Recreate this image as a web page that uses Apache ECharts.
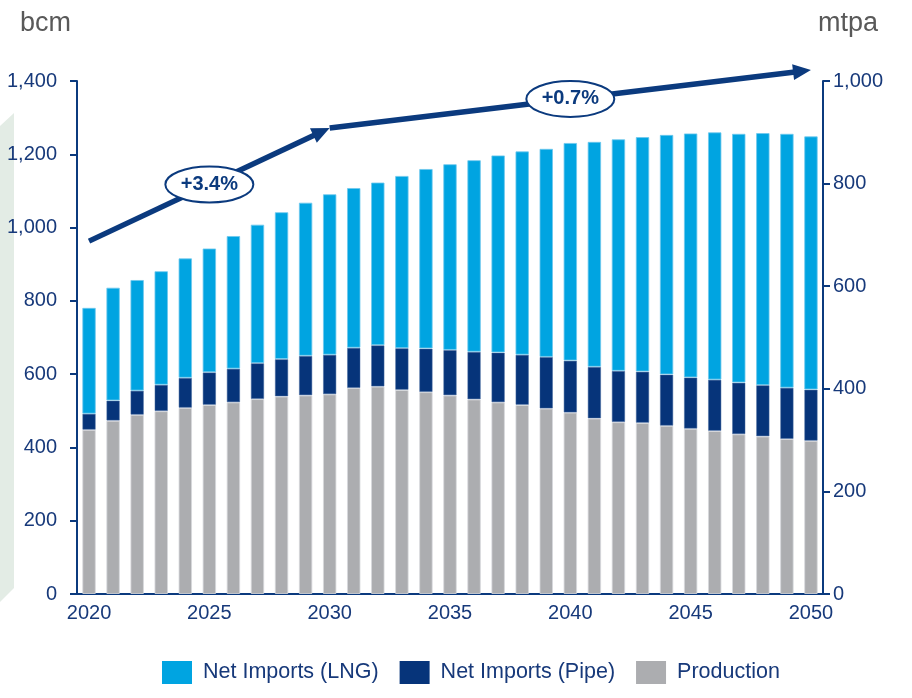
<!DOCTYPE html>
<html>
<head>
<meta charset="utf-8">
<script src="https://cdn.jsdelivr.net/npm/echarts@6/dist/echarts.min.js"></script>
<style>
  html, body { margin: 0; padding: 0; background: #ffffff; }
  #chart { width: 912px; height: 698px; }
</style>
</head>
<body>
<div id="chart"></div>
<script>
// Gas balance, 2020-2050 (bcm, stacked)
const years = ['2020','2021','2022','2023','2024','2025','2026','2027','2028','2029',
               '2030','2031','2032','2033','2034','2035','2036','2037','2038','2039',
               '2040','2041','2042','2043','2044','2045','2046','2047','2048','2049','2050'];

const production = [448,473,489,499,508,516,523,532,539,542,545,562,566,557,551,542,
                    531,523,516,506,495,479,469,467,459,451,445,436,430,423,418];
const netImportsPipe = [44,55,66,72,82,89,92,98,102,108,108,110,113,114,119,124,
                        130,136,137,141,142,141,140,140,140,140,140,141,140,140,140];
const netImportsLng = [289,308,302,310,326,338,362,378,401,418,438,436,444,470,490,507,
                       523,538,555,568,594,614,632,640,654,666,675,679,688,693,691];

// Growth arrows: anchor levels (bcm) and labels
const trendYears = ['2020', '2030', '2050'];
const trendLevels = [963, 1272, 1430];
const trendLabels = ['+3.4%', '+0.7%'];

const NAVY = '#0B3A7E';
const TEXT = '#17397A';

const chart = echarts.init(document.getElementById('chart'));

const barStyle = (color, border) => ({
  color: color,
  borderColor: border,
  borderWidth: 1
});

chart.setOption({
  animation: false,
  textStyle: { fontFamily: 'Liberation Sans, Arial, sans-serif' },
  grid: { left: 77, right: 89, top: 81, bottom: 104, containLabel: false },
  legend: {
    top: 656,
    left: 157,
    itemWidth: 30,
    itemHeight: 23,
    itemGap: 21,
    icon: 'rect',
    itemStyle: { borderWidth: 0 },
    data: ['Net Imports (LNG)', 'Net Imports (Pipe)', 'Production'],
    textStyle: { color: TEXT, fontSize: 21.5, padding: [0, 0, 0, 6] }
  },
  xAxis: {
    type: 'category',
    data: years,
    boundaryGap: true,
    axisLine: { lineStyle: { color: NAVY, width: 2 } },
    axisTick: { show: false },
    axisLabel: { interval: 4, color: TEXT, fontSize: 20, margin: 9 }
  },
  yAxis: [
    {
      type: 'value',
      name: 'bcm',
      nameLocation: 'end',
      nameGap: 0,
      nameTextStyle: { color: '#595959', fontSize: 27, align: 'left', padding: [0, 0, 44, -57] },
      min: 0, max: 1400, interval: 200,
      splitLine: { show: false },
      axisLine: { show: true, lineStyle: { color: NAVY, width: 2 } },
      axisTick: { show: true, length: 7, lineStyle: { color: NAVY, width: 2 } },
      axisLabel: {
        color: TEXT, fontSize: 20, margin: 20,
        formatter: v => v.toLocaleString('en-US')
      }
    },
    {
      type: 'value',
      name: 'mtpa',
      position: 'right',
      nameLocation: 'end',
      nameGap: 0,
      nameTextStyle: { color: '#595959', fontSize: 27, align: 'right', padding: [0, -55, 44, 0] },
      min: 0, max: 1000, interval: 200,
      splitLine: { show: false },
      axisLine: { show: true, lineStyle: { color: NAVY, width: 2 } },
      axisTick: { show: true, length: 7, lineStyle: { color: NAVY, width: 2 } },
      axisLabel: {
        color: TEXT, fontSize: 20, margin: 10,
        formatter: v => v.toLocaleString('en-US')
      }
    }
  ],
  series: [
    {
      name: 'Production', type: 'bar', stack: 'gas', barWidth: 13.5,
      itemStyle: barStyle('#ACADB0', 'rgba(215,216,220,0.8)'),
      data: production
    },
    {
      name: 'Net Imports (Pipe)', type: 'bar', stack: 'gas', barWidth: 13.5,
      itemStyle: barStyle('#06347A', 'rgba(70,105,160,0.5)'),
      data: netImportsPipe
    },
    {
      name: 'Net Imports (LNG)', type: 'bar', stack: 'gas', barWidth: 13.5,
      itemStyle: barStyle('#00A4E1', 'rgba(110,200,238,0.8)'),
      data: netImportsLng
    }
  ]
});

// Trend arrows with growth-rate badges, placed through the axes
const pts = trendYears.map((y, i) =>
  chart.convertToPixel({ xAxisIndex: 0, yAxisIndex: 0 }, [y, trendLevels[i]]));

const graphics = [
  // pale band at the left edge
  {
    type: 'polygon', silent: true, z: 0,
    shape: { points: [[0, 126], [14, 113], [14, 588], [0, 602]] },
    style: { fill: '#E3ECE5' }
  }
];

for (let i = 0; i < pts.length - 1; i++) {
  const [x1, y1] = pts[i];
  const [x2, y2] = pts[i + 1];
  const dx = x2 - x1, dy = y2 - y1;
  const len = Math.sqrt(dx * dx + dy * dy);
  const ux = dx / len, uy = dy / len;
  const headLen = 18, headHalf = 8;
  const bx = x2 - ux * headLen, by = y2 - uy * headLen;
  graphics.push({
    type: 'line', z: 50,
    shape: { x1: x1, y1: y1, x2: bx + ux * 2, y2: by + uy * 2 },
    style: { stroke: NAVY, lineWidth: 5.5 }
  });
  graphics.push({
    type: 'polygon', z: 50,
    shape: { points: [[x2, y2], [bx - uy * headHalf, by + ux * headHalf], [bx + uy * headHalf, by - ux * headHalf]] },
    style: { fill: NAVY }
  });
  const cx = (x1 + x2) / 2, cy = (y1 + y2) / 2;
  graphics.push({
    type: 'ellipse', z: 60,
    shape: { cx: cx, cy: cy, rx: 44, ry: 18 },
    style: { fill: '#ffffff', stroke: NAVY, lineWidth: 2 }
  });
  graphics.push({
    type: 'text', z: 61,
    x: cx, y: cy,
    style: {
      text: trendLabels[i], fill: NAVY, font: 'bold 20px Liberation Sans, Arial, sans-serif',
      align: 'center', verticalAlign: 'middle'
    }
  });
}

chart.setOption({ graphic: graphics });
</script>
</body>
</html>
